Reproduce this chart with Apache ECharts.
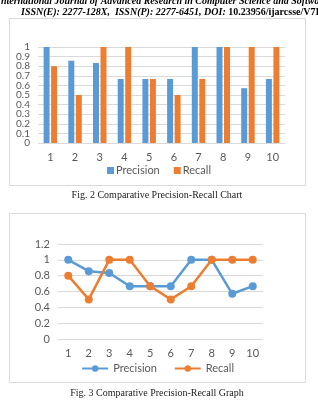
<!DOCTYPE html>
<html>
	<head>
		<meta charset="utf-8">
		<title></title>
		<script src="https://cdn.jsdelivr.net/npm/echarts@6/dist/echarts.min.js"></script>
		<style>
			html, body { margin: 0; padding: 0; background: #fff; }
			#main { width: 318px; height: 400px; }
		</style>
	</head>
	<body>
		<div id="main"></div>
		<script>
			// 数据
			var categories = ['1', '2', '3', '4', '5', '6', '7', '8', '9', '10'];
			var precision = [1, 0.857, 0.833, 0.667, 0.667, 0.667, 1, 1, 0.571, 0.667];
			var recall = [0.8, 0.5, 1, 1, 0.667, 0.5, 0.667, 1, 1, 1];
			var seriesNames = ['Precision', 'Recall'];

			var blue = '#5B9BD5';
			var orange = '#ED7D31';
			var gray = '#595959';
			var grid = '#d9d9d9';
			var sans = 'Lato, "Open Sans", sans-serif';
			var serif = '"Liberation Serif", "DejaVu Serif", serif';

			var myChart = echarts.init(document.getElementById('main'));

			function xAxis(gi, margin) {
				return {
					type: 'category', gridIndex: gi, data: categories,
					axisLine: { show: false }, axisTick: { show: false },
					axisLabel: { color: gray, fontSize: 11, fontFamily: sans, margin: margin }
				};
			}
			function yAxis(gi, max, interval, fs) {
				return {
					type: 'value', gridIndex: gi, min: 0, max: max, interval: interval,
					axisLabel: { color: gray, fontSize: fs, fontFamily: sans, margin: 8 },
					splitLine: { lineStyle: { color: grid, width: 1 } }
				};
			}

			// 柱状图的刻度很密, 0和1单独放在第二个y轴上, 免得中间的标签被隐藏
			var barY = yAxis(0, 1, 0.1, 10);
			barY.axisLabel.showMinLabel = false;
			barY.axisLabel.showMaxLabel = false;
			var barYEnds = yAxis(0, 1, 0.1, 10);
			barYEnds.splitLine = { show: false };
			barYEnds.position = 'left';
			barYEnds.axisLabel.formatter = function (v) { return (v === 0 || v === 1) ? String(v) : ''; };

			var option = {
				animation: false,
				grid: [
					{ left: 38, right: 33, top: 47, height: 96 },
					{ left: 58, right: 55, top: 244, height: 95 }
				],
				xAxis: [xAxis(0, 9), xAxis(1, 9)],
				yAxis: [barY, yAxis(1, 1.2, 0.2, 11), barYEnds],
				legend: [
					{
						data: seriesNames.map(function (n) { return { name: n, icon: 'rect' }; }),
						top: 160, left: 'center', itemWidth: 7, itemHeight: 7, itemGap: 14,
						textStyle: { color: gray, fontSize: 11, fontFamily: sans, padding: [0, 0, 0, -3] }
					},
					{
						data: [seriesNames[0] + ' ', seriesNames[1] + ' '],
						top: 358, left: 'center', itemWidth: 26, itemHeight: 8, itemGap: 14,
						textStyle: { color: gray, fontSize: 11, fontFamily: sans }
					}
				],
				series: [
					{ name: seriesNames[0], type: 'bar', xAxisIndex: 0, yAxisIndex: 0, data: precision,
						barWidth: 6, barGap: '25%', itemStyle: { color: blue } },
					{ name: seriesNames[1], type: 'bar', xAxisIndex: 0, yAxisIndex: 0, data: recall,
						barWidth: 6, barGap: '25%', itemStyle: { color: orange } },
					{ name: seriesNames[0] + ' ', type: 'line', xAxisIndex: 1, yAxisIndex: 1, data: precision,
						symbol: 'circle', symbolSize: 8, lineStyle: { color: blue, width: 2.5 }, itemStyle: { color: blue } },
					{ name: seriesNames[1] + ' ', type: 'line', xAxisIndex: 1, yAxisIndex: 1, data: recall,
						symbol: 'circle', symbolSize: 8, lineStyle: { color: orange, width: 2.5 }, itemStyle: { color: orange } }
				],
				graphic: [
					{ type: 'rect', shape: { x: 9.5, y: 18.5, width: 296, height: 167 }, z: -1,
						style: { fill: '#fff', stroke: grid, lineWidth: 1 } },
					{ type: 'rect', shape: { x: 9.5, y: 213.5, width: 296, height: 169 }, z: -1,
						style: { fill: '#fff', stroke: grid, lineWidth: 1 } },
					{ type: 'text', x: -3, y: -4, style: { text: 'International Journal of Advanced Research in Computer Science and Software Engineering',
						font: 'italic bold 10px ' + serif, fill: '#000' } },
					{ type: 'text', x: 21, y: 7, style: { text: 'ISSN(E): 2277-128X,  ISSN(P): 2277-6451, DOI: {u|10.23956/ijarcsse/V7I6}',
						font: 'italic bold 10px ' + serif, fill: '#000',
						rich: { u: { fontStyle: 'normal', fontWeight: 'bold', fontSize: 10, fontFamily: serif, fill: '#000' } } } },
					{ type: 'text', x: 157, y: 195, style: { text: 'Fig. 2 Comparative Precision-Recall Chart',
						font: '10px ' + serif, fill: '#222', align: 'center', verticalAlign: 'middle' } },
					{ type: 'text', x: 157, y: 393, style: { text: 'Fig. 3 Comparative Precision-Recall Graph',
						font: '10px ' + serif, fill: '#222', align: 'center', verticalAlign: 'middle' } }
				]
			};
			myChart.setOption(option);
		</script>
	</body>
</html>
